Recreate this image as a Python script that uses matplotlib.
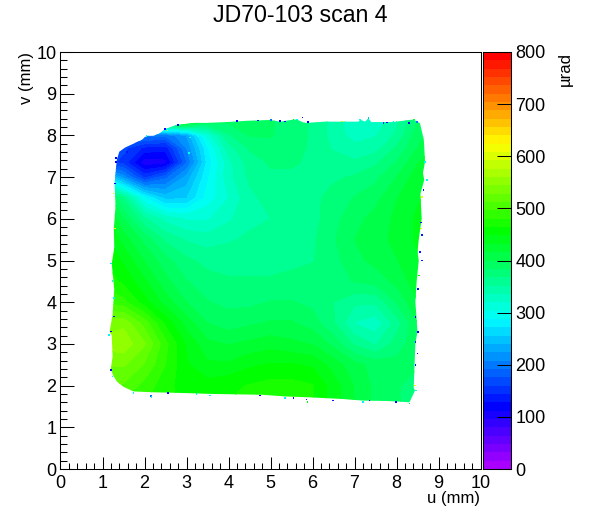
#!/usr/bin/env python3
"""Deflection angle map for JD70-103 scan 4, ROOT style colz plot."""

import colorsys

import numpy as np
import matplotlib
matplotlib.use("Agg")
import matplotlib.pyplot as plt
from matplotlib.colors import BoundaryNorm, ListedColormap
from matplotlib.patches import Polygon
from matplotlib.ticker import MultipleLocator

plt.rcParams["font.family"] = ["Liberation Sans", "DejaVu Sans"]

# Angle map (urad)
u_grid = [1, 1.5, 2, 2.5, 3, 3.5, 4, 4.5, 5, 5.5, 6, 6.5, 7, 7.5, 8, 8.5, 9]
v_grid = [1.5, 2, 2.5, 3, 3.5, 4, 4.5, 5, 5.5, 6, 6.5, 7, 7.35, 7.7, 8, 8.3, 8.5]
angle = [
    [490, 490, 480, 470, 460, 460, 465, 470, 470, 470, 465, 440, 415, 395, 385, 380, 380],
    [510, 510, 490, 470, 455, 455, 460, 465, 470, 470, 465, 440, 415, 395, 385, 380, 380],
    [530, 530, 510, 480, 450, 435, 435, 445, 450, 450, 445, 425, 405, 395, 390, 385, 385],
    [550, 555, 530, 485, 445, 420, 415, 420, 425, 420, 415, 395, 365, 350, 375, 395, 405],
    [535, 540, 505, 460, 425, 400, 392, 397, 402, 402, 392, 370, 335, 325, 360, 400, 420],
    [495, 485, 455, 425, 400, 385, 380, 380, 385, 385, 380, 368, 355, 355, 385, 415, 430],
    [475, 460, 435, 405, 385, 375, 370, 370, 370, 375, 375, 378, 385, 390, 405, 425, 435],
    [465, 445, 415, 390, 372, 362, 362, 362, 362, 362, 367, 378, 395, 405, 415, 430, 440],
    [460, 425, 395, 365, 350, 345, 350, 355, 355, 355, 365, 382, 400, 410, 420, 435, 445],
    [450, 400, 355, 330, 318, 318, 333, 348, 352, 352, 362, 378, 395, 405, 420, 435, 445],
    [420, 365, 290, 250, 255, 295, 320, 348, 358, 358, 363, 375, 385, 395, 415, 430, 440],
    [280, 215, 155, 186, 229, 285, 330, 355, 365, 365, 365, 365, 370, 380, 400, 425, 440],
    [170, 154, 100, 105, 190, 277, 330, 360, 370, 370, 365, 360, 355, 365, 385, 415, 430],
    [170, 165, 140, 135, 208, 285, 345, 370, 380, 375, 365, 350, 340, 345, 370, 400, 420],
    [230, 205, 200, 195, 225, 310, 365, 385, 385, 378, 365, 345, 330, 335, 355, 395, 410],
    [350, 380, 420, 420, 420, 385, 385, 385, 385, 380, 365, 345, 325, 325, 350, 385, 400],
    [380, 400, 420, 420, 420, 390, 385, 385, 385, 380, 370, 350, 335, 340, 360, 385, 395],
]

# Outline of the scanned area (mm), jagged where the scan edge is
edge_u = [1.34, 1.40, 1.54, 1.93, 2.05, 2.21, 2.37, 2.49, 2.77, 3.20, 3.48, 3.96, 4.43, 4.99,
          5.23, 5.55, 5.63, 5.76, 5.85, 6.30, 7.10, 7.13, 7.25, 7.33, 7.40, 7.90, 8.41, 8.56,
          8.65, 8.68, 8.63, 8.66, 8.57, 8.60, 8.53, 8.50, 8.53, 8.48, 8.45, 8.50, 8.45, 8.43,
          8.41, 8.44, 8.31, 7.80, 7.20, 6.70, 5.90, 5.35, 4.80, 3.60, 3.00, 2.20, 1.74, 1.50,
          1.34, 1.25, 1.20, 1.24, 1.22, 1.17, 1.24, 1.28, 1.22, 1.28, 1.27, 1.31, 1.29, 1.32]
edge_v = [7.41, 7.61, 7.71, 7.89, 7.99, 7.99, 8.05, 8.15, 8.25, 8.30, 8.30, 8.32, 8.35, 8.37,
          8.33, 8.38, 8.38, 8.32, 8.30, 8.33, 8.33, 8.38, 8.33, 8.41, 8.32, 8.32, 8.38, 8.29,
          7.90, 7.37, 7.10, 6.93, 6.60, 6.00, 5.50, 5.20, 5.00, 4.50, 4.00, 3.30, 3.00, 2.50,
          1.95, 1.88, 1.60, 1.63, 1.64, 1.68, 1.72, 1.74, 1.78, 1.80, 1.82, 1.84, 1.86, 1.97,
          2.10, 2.25, 2.40, 2.70, 3.20, 3.30, 3.70, 4.30, 4.93, 5.30, 5.77, 6.30, 6.85, 7.20]

# Stray bins along the edge (u, v in mm, angle in urad)
stray_u = [5.01, 5.23, 5.35, 5.55, 5.63, 5.76, 7.13, 7.33, 7.69, 7.77, 7.93, 8.29, 8.41, 8.49,
           8.68, 8.72, 8.64, 8.60, 8.58, 8.58, 8.60, 8.56, 8.60, 8.54, 8.52, 8.52, 8.45, 8.52,
           8.45, 8.50, 8.45, 8.44, 8.47, 5.35, 5.55, 5.86, 5.88, 6.49, 7.20, 7.36, 7.99, 8.31,
           2.15, 2.17, 1.74, 2.56, 3.24, 3.56, 4.75, 1.32, 1.30, 1.26, 1.29, 1.20, 1.24, 1.28,
           1.27, 1.16, 1.21, 1.20, 1.24, 1.32, 1.58, 2.05, 2.49, 2.55, 2.80, 3.08, 3.06, 3.28,
           4.20, 4.70, 5.90, 6.70]
stray_v = [8.37, 8.35, 8.33, 8.38, 8.38, 8.43, 8.38, 8.41, 8.30, 8.31, 8.33, 8.30, 8.38, 8.32,
           7.37, 6.93, 6.69, 6.53, 5.91, 5.77, 5.61, 5.20, 5.00, 4.64, 4.32, 4.33, 3.65, 3.29,
           3.05, 2.77, 2.49, 2.00, 1.88, 1.70, 1.70, 1.67, 1.60, 1.64, 1.60, 1.64, 1.60, 1.57,
           1.75, 1.72, 1.83, 1.83, 1.80, 1.76, 1.76, 7.37, 6.85, 6.61, 5.77, 4.93, 4.50, 4.10,
           3.66, 3.22, 3.30, 2.38, 2.22, 7.46, 7.61, 7.99, 8.15, 8.12, 8.25, 7.95, 7.58, 7.98,
           8.34, 8.36, 8.32, 8.33]
stray_a = [200, 120, 130, 450, 300, 110, 300, 250, 150, 120, 300, 120, 420, 200,
           300, 300, 130, 610, 120, 620, 130, 130, 130, 450, 130, 130, 120, 120,
           130, 120, 130, 620, 280, 280, 120, 130, 450, 130, 280, 120, 120, 440,
           190, 280, 300, 120, 280, 280, 120, 120, 120, 600, 620, 280, 290, 290,
           130, 280, 120, 120, 290, 120, 130, 290, 120, 620, 120, 300, 300, 300,
           120, 130, 120, 590]

ticks_cbar = [0, 100, 200, 300, 400, 500, 600, 700, 800]
n_levels = 50

W, H = 601, 522
fig = plt.figure(figsize=(W / 100, H / 100), dpi=100)
ax = fig.add_axes([60.5 / W, (H - 469) / H, 420 / W, 417 / H])
cax = fig.add_axes([483 / W, (H - 469) / H, 28 / W, 417 / H])

# ROOT rainbow palette, hue runs from violet down to red
colors = [colorsys.hsv_to_rgb((280 - 280 * i / (n_levels - 1)) / 360, 1, 1) for i in range(n_levels)]
cmap = ListedColormap(colors)
levels = np.linspace(0, 800, n_levels + 1)
norm = BoundaryNorm(levels, n_levels)

outline = Polygon(np.column_stack([edge_u, edge_v]), closed=True, transform=ax.transData,
                  facecolor="none", edgecolor="none")
ax.add_patch(outline)
cs = ax.contourf(u_grid, v_grid, angle, levels=levels, cmap=cmap, norm=norm, antialiased=False)
cs.set_clip_path(outline)
ax.scatter(stray_u, stray_v, c=stray_a, cmap=cmap, norm=norm, marker="s", s=1.5, linewidths=0, zorder=3)

ax.set_xlim(0, 10)
ax.set_ylim(0, 10)
ax.set_xticks(range(11))
ax.set_yticks(range(11))
ax.xaxis.set_minor_locator(MultipleLocator(0.2))
ax.yaxis.set_minor_locator(MultipleLocator(0.2))
ax.tick_params(axis="x", which="major", direction="in", length=8.6, width=0.75, labelsize=13, pad=4)
ax.tick_params(axis="x", which="minor", direction="in", length=4.3, width=0.75)
ax.tick_params(axis="y", which="major", direction="in", length=10, width=0.75, labelsize=13, pad=3)
ax.tick_params(axis="y", which="minor", direction="in", length=5, width=0.75)
for s in ax.spines.values():
    s.set_linewidth(0.75)

# Palette strip
cax.pcolormesh([0, 1], levels, np.array(levels[:-1]).reshape(-1, 1) + 8, cmap=cmap, norm=norm, antialiased=False)
cax.set_xlim(0, 1)
cax.set_ylim(0, 800)
cax.set_xticks([])
cax.yaxis.tick_right()
cax.set_yticks(ticks_cbar)
cax.tick_params(axis="y", direction="in", length=10, width=0.75, labelsize=13, pad=3)
for s in cax.spines.values():
    s.set_linewidth(0.75)

fig.text(300 / W, 1 - 15 / H, "JD70-103 scan 4", ha="center", va="center", fontsize=16.7)
fig.text(480 / W, 1 - 498 / H, "u (mm)", ha="right", va="center", fontsize=12)
fig.text(27 / W, 1 - 52 / H, "v (mm)", ha="center", va="top", rotation=90, fontsize=12)
fig.text(565 / W, 1 - 52 / H, "\u00b5rad", ha="center", va="top", rotation=90, fontsize=12)

fig.savefig("out.png", dpi=100)
